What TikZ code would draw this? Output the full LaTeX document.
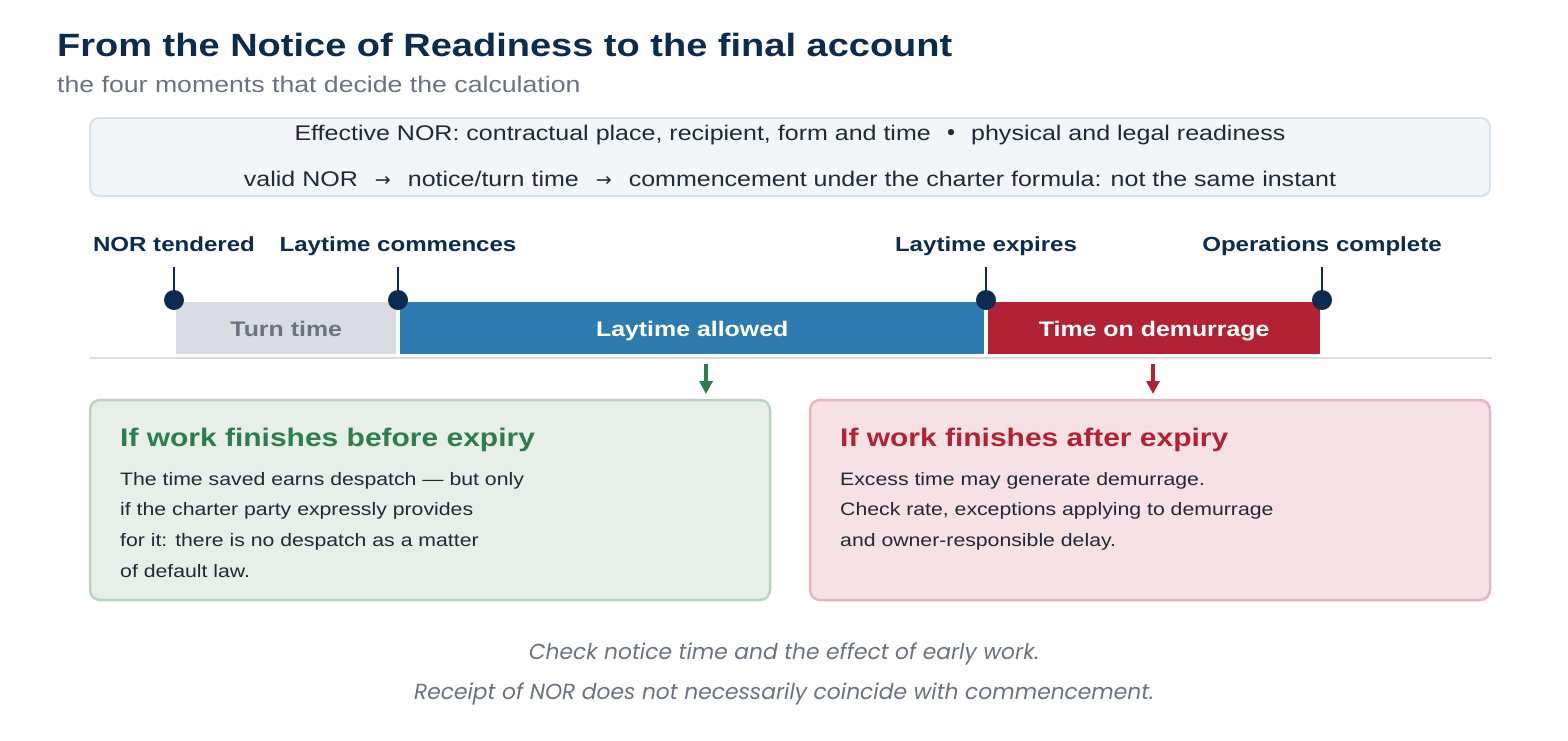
\documentclass[tikz,border=0pt]{standalone}
\usepackage{fontspec}
\setmainfont{Liberation Sans}[FakeStretch=1.18]
\newfontfamily\notefont{Poppins}
\newfontfamily\symfont{DejaVu Sans}
\usetikzlibrary{positioning,arrows.meta}

\definecolor{navy}{HTML}{0D2B4E}
\definecolor{subgray}{HTML}{6B7280}
\definecolor{inkdark}{HTML}{1F2937}
\definecolor{infofill}{HTML}{F2F6F9}
\definecolor{infoline}{HTML}{D8E1EA}
\definecolor{turnfill}{HTML}{D9DDE2}
\definecolor{layblue}{HTML}{2E7BB0}
\definecolor{demred}{HTML}{B22234}
\definecolor{okgreen}{HTML}{2E7D4F}
\definecolor{greenfill}{HTML}{E8EFE9}
\definecolor{greenline}{HTML}{B9D3BF}
\definecolor{redfill}{HTML}{F6E1E4}
\definecolor{redline}{HTML}{E2B7BE}

\newcommand{\infoarrow}{\hspace{17pt}{\symfont\fontsize{19}{20}\selectfont →}\hspace{17pt}}

\tikzset{
    moment/.style={anchor=base, text=navy, font=\fontsize{20.4}{25}\selectfont\bfseries, inner sep=0pt},
    bar/.style={anchor=north west, minimum height=52pt, inner sep=0pt, text height=17pt, text depth=0pt,
        font=\fontsize{21.1}{25}\selectfont\bfseries},
    boxtitle/.style={anchor=base west, inner sep=0pt, font=\fontsize{25.4}{30}\selectfont\bfseries},
    boxbody/.style={anchor=north west, inner sep=0pt, align=left, text=inkdark, font=\fontsize{18}{30.7}\selectfont},
    tick/.style={navy, line width=2pt},
    dot/.style={circle, fill=navy, minimum size=20pt, inner sep=0pt},
    drop/.style={line width=3.5pt, -{Triangle[length=13pt,width=13pt]}},
}

\begin{document}
\begin{tikzpicture}[x=1pt,y=-1pt]
    \useasboundingbox[fill=white] (0,0) rectangle (1568,740);
    %% Heading
    \node[anchor=base west, inner sep=0pt, text=navy, font=\fontsize{32.2}{38}\selectfont\bfseries]
        (title) at (57,56) {From the Notice of Readiness to the final account};
    \node[anchor=base west, inner sep=0pt, text=subgray, font=\fontsize{22.6}{26}\selectfont]
        (subtitle) at (57,92) {the four moments that decide the calculation};
    %% Info box
    \draw[infoline, fill=infofill, line width=2pt, rounded corners=9pt] (90,118) rectangle (1490,196);
    \node[anchor=base, inner sep=0pt, text=inkdark, font=\fontsize{21.2}{24}\selectfont]
        (infoA) at (790,140) {Effective NOR: contractual place, recipient, form and time \ {\symfont •} \ physical and legal readiness};
    \node[anchor=base, inner sep=0pt, text=inkdark, font=\fontsize{21.2}{24}\selectfont]
        (infoB) at (790,186) {valid NOR\infoarrow notice/turn time\infoarrow commencement under the charter formula: not the same instant};
    %% Bars
    \draw[turnfill, line width=2.5pt] (90,358) -- (1492,358);
    \node[bar, fill=turnfill, text=subgray, minimum width=220pt] (turn) at (176,302) {Turn time};
    \node[bar, fill=layblue, text=white, minimum width=584pt] (lay) at (400,302) {Laytime allowed};
    \node[bar, fill=demred, text=white, minimum width=332pt] (dem) at (988,302) {Time on demurrage};
    %% Moments
    \node[moment] (nor) at (174,251) {NOR tendered};
    \node[moment] (start) at (398,251) {Laytime commences};
    \node[moment] (expiry) at (986,251) {Laytime expires};
    \node[moment] (done) at (1322,251) {Operations complete};
    \foreach \m/\x in {nor/174, start/398, expiry/986, done/1322}{
        \node[dot] (\m dot) at (\x,300) {};
        \draw[tick] (\x,267) -- (\m dot.center);
    }
    %% Outcome boxes
    \draw[greenline, fill=greenfill, line width=2.5pt, rounded corners=10pt] (90,400) rectangle (770,600);
    \draw[redline, fill=redfill, line width=2.5pt, rounded corners=10pt] (810,400) rectangle (1490,600);
    \node[boxtitle, text=okgreen] (early) at (120,446) {If work finishes before expiry};
    \node[boxbody] (earlytext) at (120,472) {The time saved earns despatch --- but only\\if the charter party expressly provides\\for it: there is no despatch as a matter\\of default law.};
    \node[boxtitle, text=demred] (late) at (840,446) {If work finishes after expiry};
    \node[boxbody] (latetext) at (840,472) {Excess time may generate demurrage.\\Check rate, exceptions applying to demurrage\\and owner-responsible delay.};
    \coordinate (greentop) at (706,364);
    \coordinate (redtop) at (1153,364);
    \draw[drop, okgreen] (greentop) -- ++(0,30);
    \draw[drop, demred] (redtop) -- ++(0,30);
    %% Footnote
    \node[anchor=base, inner sep=0pt, text=subgray, font=\notefont\itshape\fontsize{21.8}{26}\selectfont]
        (noteA) at (784,659) {Check notice time and the effect of early work.};
    \node[anchor=base, inner sep=0pt, text=subgray, font=\notefont\itshape\fontsize{21.8}{26}\selectfont]
        (noteB) at (784,699) {Receipt of NOR does not necessarily coincide with commencement.};
\end{tikzpicture}
\end{document}
